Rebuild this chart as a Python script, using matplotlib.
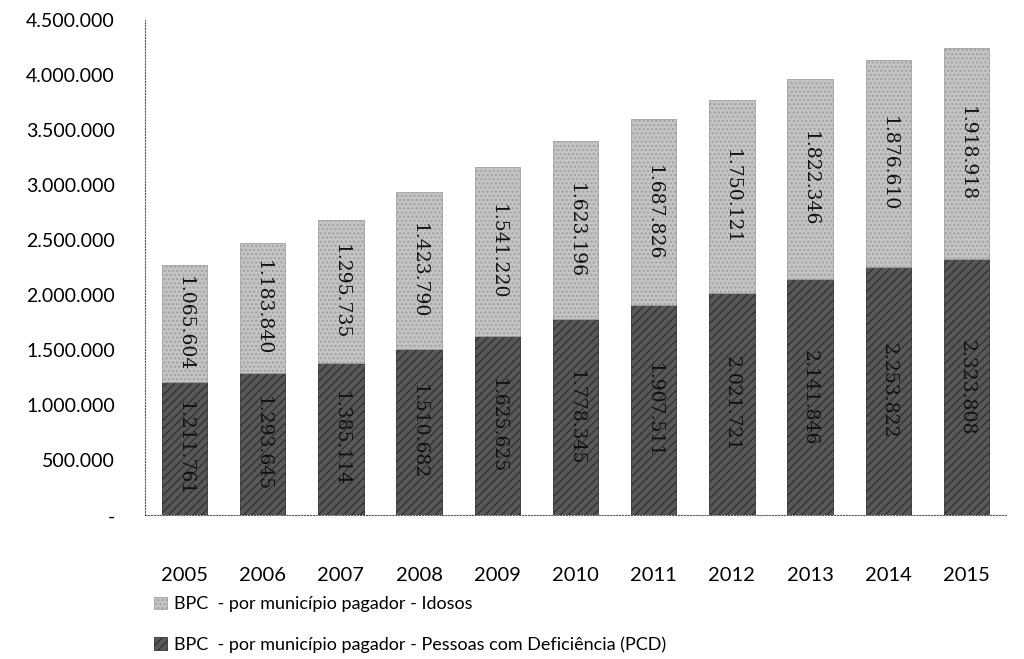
import numpy as np
import matplotlib
matplotlib.use("Agg")
import matplotlib.pyplot as plt

anos = ['2005', '2006', '2007', '2008', '2009', '2010', '2011', '2012', '2013', '2014', '2015']
pcd = [1211761, 1293645, 1385114, 1510682, 1625625, 1778345, 1907511, 2021721, 2141846, 2253822, 2323808]
idosos = [1065604, 1183840, 1295735, 1423790, 1541220, 1623196, 1687826, 1750121, 1822346, 1876610, 1918918]
yticks = [0, 500000, 1000000, 1500000, 2000000, 2500000, 3000000, 3500000, 4000000, 4500000]

def fmt(v):
    return '{:,}'.format(v).replace(',', '.')

plt.rcParams['font.family'] = ['Lato', 'DejaVu Sans']

fig = plt.figure(figsize=(10.24, 6.59), dpi=100)
ax = fig.add_axes([0.142, 0.218, 0.84, 0.752])

x = np.arange(len(anos))
b1 = ax.bar(x, pcd, width=0.58, color='#585858', edgecolor='#333333', linewidth=0.6,
            hatch='////', label='BPC  - por município pagador - Pessoas com Deficiência (PCD)')
b2 = ax.bar(x, idosos, bottom=pcd, width=0.58, color='#c4c4c4', edgecolor='#a0a0a0', linewidth=0.6,
            hatch='....', label='BPC  - por município pagador - Idosos')

for i in range(len(anos)):
    ax.text(x[i], pcd[i] / 2, fmt(pcd[i]), rotation=270, ha='center', va='center',
            fontsize=13.5, family='DejaVu Serif', color='#111111')
    ax.text(x[i], pcd[i] + idosos[i] / 2, fmt(idosos[i]), rotation=270, ha='center', va='center',
            fontsize=13.5, family='DejaVu Serif', color='#111111')

ax.set_xlim(-0.5, 10.5)
ax.set_ylim(0, 4500000)
ax.set_yticks(yticks)
ax.set_yticklabels(['-'] + [fmt(v) for v in yticks[1:]], fontsize=14)
ax.set_xticks(x)
ax.set_xticklabels(anos, fontsize=14.5)
ax.tick_params(axis='x', length=0, pad=37)
ax.tick_params(axis='y', length=0, pad=22)
for s in ['top', 'right']:
    ax.spines[s].set_visible(False)
for s in ['left', 'bottom']:
    ax.spines[s].set_linestyle(':')
    ax.spines[s].set_color('#555555')

h, l = ax.get_legend_handles_labels()
fig.legend(h[::-1], l[::-1], loc='upper left', bbox_to_anchor=(0.135, 0.12), frameon=False,
           fontsize=13, handlelength=0.7, handleheight=0.7, handletextpad=0.4, labelspacing=1.35)

fig.savefig('out.png', dpi=100)
